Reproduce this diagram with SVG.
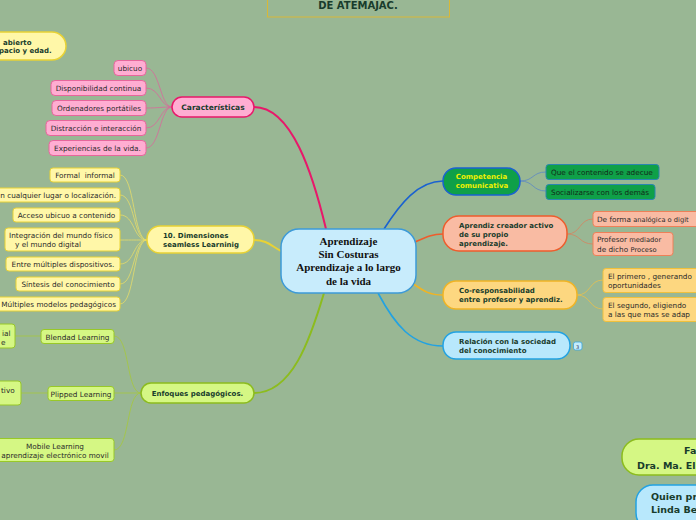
<svg xmlns="http://www.w3.org/2000/svg" width="696" height="520" viewBox="0 0 696 520">
<style>
.t{font-family:"DejaVu Sans",Verdana,sans-serif;font-size:7.3px;fill:#2a2a2a}
.b{font-family:"DejaVu Sans",Verdana,sans-serif;font-size:7px;font-weight:bold;fill:#183c2c}
.big{font-family:"DejaVu Sans",Verdana,sans-serif;font-size:9.5px;font-weight:bold;fill:#183c2c}
.m{text-anchor:middle}
.pk{fill:#ffadd2;stroke:#e6669c;stroke-width:1}
.pkm{fill:#ffadd2;stroke:#e8186a;stroke-width:1.5}
.yl{fill:#fff7a8;stroke:#e8d234;stroke-width:1}
.ylm{fill:#fff7a8;stroke:#e8d234;stroke-width:1.5}
.gr{fill:#d5f784;stroke:#98c828;stroke-width:1}
.grm{fill:#d5f784;stroke:#8cbc1e;stroke-width:1.5}
.dg{fill:#0fa048;stroke:#2a86b0;stroke-width:1}
.sa{fill:#f9bba3;stroke:#ee8058;stroke-width:1}
.sam{fill:#f9bba3;stroke:#ee5c2c;stroke-width:1.5}
.or{fill:#fdd780;stroke:#f0c03c;stroke-width:1}
.orm{fill:#fdd780;stroke:#f0b424;stroke-width:1.5}
.bl{fill:#b8e8fc;stroke:#22a2e2;stroke-width:1.5}
.c{fill:none}
</style>
<rect width="696" height="520" fill="#99b794"/>

<g id="connectors">
  <path class="c" d="M254,107 C292,107 313,175 326,229" stroke="#e8186a" stroke-width="2"/>
  <path class="c" d="M254,240 C268,240 272,247 283,252" stroke="#e8d234" stroke-width="2"/>
  <path class="c" d="M254,393 C292,393 310,340 324,293" stroke="#8cbc1e" stroke-width="2"/>
  <path class="c" d="M384,229 C400,204 418,181 443,181" stroke="#1a62d0" stroke-width="1.6"/>
  <path class="c" d="M415,242 C426,237 432,234 443,234" stroke="#ee5c2c" stroke-width="1.6"/>
  <path class="c" d="M412,283 C425,292 430,295 443,295" stroke="#f0b424" stroke-width="1.6"/>
  <path class="c" d="M378,293 C395,325 412,346 443,346" stroke="#22a2e2" stroke-width="1.6"/>
  <g stroke="#d8689a" stroke-width="0.8" fill="none">
    <path d="M146,68 C160,68 160,107 172,107"/>
    <path d="M146,88 C160,88 160,107 172,107"/>
    <path d="M146,108 C160,108 160,107 172,107"/>
    <path d="M146,128 C160,128 160,107 172,107"/>
    <path d="M146,148 C160,148 160,107 172,107"/>
  </g>
  <g stroke="#e6dc6a" stroke-width="0.8" fill="none">
    <path d="M120,175 C135,175 133,240 147,240"/>
    <path d="M120,195 C135,195 133,240 147,240"/>
    <path d="M120,215 C135,215 133,240 147,240"/>
    <path d="M120,240 C135,240 133,240 147,240"/>
    <path d="M120,264 C135,264 133,240 147,240"/>
    <path d="M120,284 C135,284 133,240 147,240"/>
    <path d="M120,304 C135,304 133,240 147,240"/>
  </g>
  <g stroke="#a6c83c" stroke-width="0.8" fill="none">
    <path d="M114,336 C130,336 126,393 141,393"/>
    <path d="M114,393 L141,393"/>
    <path d="M114,450 C130,450 126,393 141,393"/>
    <path d="M15,336 L41,336"/>
    <path d="M21,393 L48,393"/>
  </g>
  <g stroke="#5c88c4" stroke-width="0.8" fill="none">
    <path d="M520,181 C534,181 532,172 546,172"/>
    <path d="M520,181 C534,181 532,191 546,191"/>
  </g>
  <g stroke="#d48460" stroke-width="0.8" fill="none">
    <path d="M567,234 C581,234 579,219 593,219"/>
    <path d="M567,234 C581,234 579,244 593,244"/>
  </g>
  <g stroke="#e8c04c" stroke-width="0.8" fill="none">
    <path d="M577,295 C591,295 589,280 603,280"/>
    <path d="M577,295 C591,295 589,309 603,309"/>
  </g>
</g>

<g id="title">
  <rect x="267.5" y="-5" width="182" height="22" fill="none" stroke="#d8b838" stroke-width="1"/>
  <text class="big m" x="358" y="9" style="font-size:10px">DE ATEMAJAC.</text>
</g>

<g id="center">
  <rect x="281" y="229" width="135" height="64" rx="18" fill="#c8ecfc" stroke="#3c9ad8" stroke-width="1.5"/>
  <g font-family="Liberation Serif,Times New Roman,serif" font-size="11" font-weight="bold" fill="#111" text-anchor="middle">
    <text x="348.5" y="245">Aprendizaje</text>
    <text x="348.5" y="258">Sin Costuras</text>
    <text x="348.5" y="271">Aprendizaje a lo largo</text>
    <text x="348.5" y="285">de la vida</text>
  </g>
</g>

<g id="abierto">
  <rect x="-20" y="32" width="86" height="28" rx="14" class="ylm"/>
  <text class="b" x="3" y="45">abierto</text>
  <text class="b" x="-1" y="53">pacio y edad.</text>
</g>

<g id="caracteristicas">
  <rect x="172" y="97" width="82" height="20" rx="10" class="pkm"/>
  <text class="b m" x="213" y="110" style="font-size:7.5px">Características</text>
</g>
<g id="ubicuo"><rect x="114" y="60.5" width="32" height="15" rx="4" class="pk"/><text class="t m" x="130" y="71">ubicuo</text></g>
<g id="disponibilidad"><rect x="51" y="80.5" width="95" height="15" rx="4" class="pk"/><text class="t m" x="98.5" y="91">Disponibilidad continua</text></g>
<g id="ordenadores"><rect x="52" y="100.5" width="94" height="15" rx="4" class="pk"/><text class="t m" x="99" y="111">Ordenadores portátiles</text></g>
<g id="distraccion"><rect x="46" y="120.5" width="100" height="15" rx="4" class="pk"/><text class="t m" x="96" y="131">Distracción e interacción</text></g>
<g id="experiencias"><rect x="49" y="140.5" width="97" height="15" rx="4" class="pk"/><text class="t m" x="97.5" y="151">Experiencias de la vida.</text></g>

<g id="dimensiones">
  <rect x="147" y="226" width="107" height="27" rx="13" class="ylm"/>
  <text class="b" x="163" y="238">10. Dimensiones</text>
  <text class="b" x="163" y="246.5">seamless Learninig</text>
</g>
<g id="formal"><rect x="50" y="168" width="70" height="14" rx="3" class="yl"/><text class="t m" x="85" y="178">Formal&#160; informal</text></g>
<g id="lugar"><rect x="-10" y="188" width="130" height="14" rx="3" class="yl"/><text class="t" x="116" y="198" text-anchor="end">n cualquier lugar o localización.</text></g>
<g id="acceso"><rect x="13" y="208" width="107" height="14" rx="3" class="yl"/><text class="t m" x="66.5" y="218">Acceso ubicuo a contenido</text></g>
<g id="integracion"><rect x="5" y="228" width="115" height="23" rx="3" class="yl"/><text class="t" x="9" y="237.5">Integración del mundo físico</text><text class="t" x="15" y="246.5">y el mundo digital</text></g>
<g id="dispositivos"><rect x="6" y="257" width="114" height="14" rx="3" class="yl"/><text class="t m" x="63" y="267">Entre múltiples dispositivos.</text></g>
<g id="sintesis"><rect x="16" y="277" width="104" height="14" rx="3" class="yl"/><text class="t m" x="68" y="287">Síntesis del conocimiento</text></g>
<g id="modelos"><rect x="-10" y="297" width="130" height="14" rx="3" class="yl"/><text class="t" x="116" y="307" text-anchor="end">Múltiples modelos pedagógicos</text></g>

<g id="enfoques">
  <rect x="141" y="383" width="113" height="20" rx="10" class="grm"/>
  <text class="b m" x="197.5" y="396">Enfoques pedagógicos.</text>
</g>
<g id="blendad"><rect x="41" y="329.5" width="73" height="14" rx="3" class="gr"/><text class="t m" x="77.5" y="339.5">Blendad Learning</text></g>
<g id="flipped"><rect x="48" y="386.5" width="66" height="14" rx="3" class="gr"/><text class="t m" x="81" y="396.5">Plipped Learning</text></g>
<g id="mobile"><rect x="-10" y="438.5" width="124" height="23" rx="3" class="gr"/><text class="t m" x="55" y="449">Mobile Learning</text><text class="t m" x="55" y="458">aprendizaje electrónico movil</text></g>
<g id="presencial"><rect x="-10" y="324" width="25" height="24" rx="3" class="gr"/><text class="t" x="2" y="336">ial</text><text class="t" x="1" y="345">e</text></g>
<g id="activo"><rect x="-10" y="381" width="31" height="24" rx="3" class="gr"/><text class="t" x="1" y="393">tivo</text></g>

<g id="competencia">
  <rect x="443" y="168" width="77" height="27" rx="13" fill="#0fa048" stroke="#1a62d0" stroke-width="1.5"/>
  <text class="b m" x="481.5" y="179" style="fill:#eef000">Competencia</text>
  <text class="b m" x="482" y="188" style="fill:#eef000">comunicativa</text>
</g>
<g id="adecue"><rect x="546" y="164.5" width="113" height="15" rx="3" class="dg"/><text class="t" x="551" y="175" style="fill:#112a18">Que el contenido se adecue</text></g>
<g id="socializarse"><rect x="546" y="184.5" width="109" height="15" rx="3" class="dg"/><text class="t" x="551" y="195" style="fill:#112a18">Socializarse con los demás</text></g>

<g id="creador">
  <rect x="443" y="216" width="124" height="35" rx="16" class="sam"/>
  <text class="b" x="459" y="228">Aprendiz creador activo</text>
  <text class="b" x="459" y="236.5"> de su propio</text>
  <text class="b" x="459" y="245.5">aprendizaje.</text>
</g>
<g id="analogica"><rect x="593" y="211.5" width="110" height="15" rx="3" class="sa"/><text class="t" x="597" y="221.5">De forma <tspan font-size="6.7">analógica o digit</tspan></text></g>
<g id="mediador"><rect x="593" y="232.5" width="80" height="23" rx="3" class="sa"/><text class="t" x="597" y="242">Profesor <tspan font-size="6.7">mediador</tspan></text><text class="t" x="597" y="251.5">de dicho <tspan font-size="6.7">Proceso</tspan></text></g>

<g id="corresponsabilidad">
  <rect x="443" y="281" width="134" height="28" rx="13" class="orm"/>
  <text class="b" x="459" y="293">Co-responsabilidad</text>
  <text class="b" x="459" y="302">entre profesor y aprendiz.</text>
</g>
<g id="primero"><rect x="603" y="268.5" width="110" height="24" rx="3" class="or"/><text class="t" x="608" y="278.5">El primero , generando</text><text class="t" x="608" y="287.5">oportunidades</text></g>
<g id="segundo"><rect x="603" y="297.5" width="110" height="24" rx="3" class="or"/><text class="t" x="608" y="307.5">El segundo, eligiendo</text><text class="t" x="608" y="316.5"> a las que mas se adap</text></g>

<g id="relacion">
  <rect x="443" y="332" width="127" height="27" rx="13" class="bl"/>
  <text class="b" x="459" y="344">Relación con la sociedad</text>
  <text class="b" x="459" y="353">del conocimiento</text>
  <rect x="573.5" y="342" width="8.5" height="8" rx="2" fill="#c4ecfc" stroke="#3aa6e0" stroke-width="0.8"/>
  <text x="577.7" y="348.5" font-family="DejaVu Sans,sans-serif" font-size="5" fill="#335" text-anchor="middle">3</text>
</g>

<g id="facilitadora">
  <rect x="622" y="439" width="100" height="36" rx="17" class="grm"/>
  <text class="big" x="684" y="454">Fa</text>
  <text class="big" x="637" y="469">Dra. Ma. El</text>
</g>
<g id="quien">
  <rect x="636" y="485" width="90" height="45" rx="17" class="bl"/>
  <text class="big" x="651" y="500">Quien pr</text>
  <text class="big" x="651" y="513">Linda Be</text>
</g>
</svg>
